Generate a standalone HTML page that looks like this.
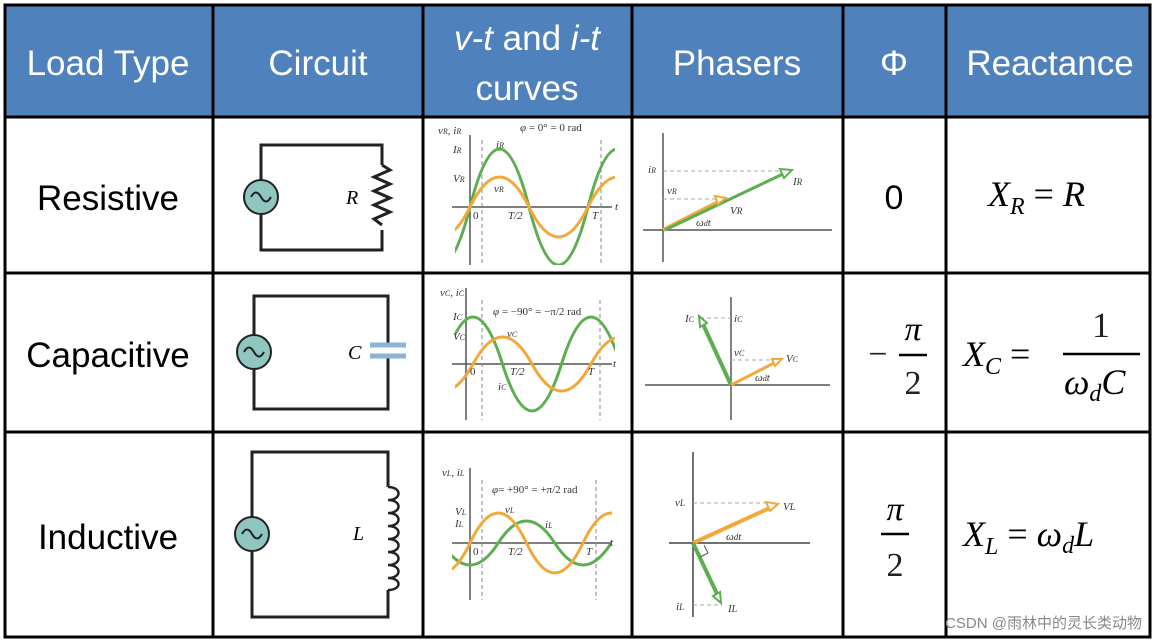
<!DOCTYPE html>
<html><head><meta charset="utf-8"><style>
html,body{margin:0;padding:0;background:#fff;}
svg{display:block;}
.h{font-family:"Liberation Sans",sans-serif;font-size:35px;fill:#fff;}
.r{font-family:"Liberation Sans",sans-serif;font-size:35px;fill:#000;}
.m{font-family:"Liberation Serif",serif;font-style:italic;fill:#000;}
.s{font-family:"Liberation Serif",serif;fill:#222;}
.t{font-family:"Liberation Serif",serif;font-size:11px;fill:#333;}
.ti{font-family:"Liberation Serif",serif;font-style:italic;font-size:11px;fill:#333;}
</style></head><body>
<svg width="1156" height="640" viewBox="0 0 1156 640" xmlns="http://www.w3.org/2000/svg">
<defs>
<clipPath id="c1"><rect x="455" y="125" width="160" height="140"/></clipPath>
<clipPath id="c2"><rect x="455" y="285" width="160" height="140"/></clipPath>
<clipPath id="c3"><rect x="452" y="440" width="160" height="190"/></clipPath>
</defs>
<rect x="5" y="5" width="1145" height="112" fill="#4f81bd"/>
<text class="h" x="108" y="75" text-anchor="middle">Load Type</text>
<text class="h" x="318" y="75" text-anchor="middle">Circuit</text>
<text class="h" x="527" y="50" text-anchor="middle"><tspan font-style="italic">v-t</tspan> and <tspan font-style="italic">i-t</tspan></text>
<text class="h" x="527" y="100" text-anchor="middle">curves</text>
<text class="h" x="737" y="75" text-anchor="middle">Phasers</text>
<text class="h" x="894" y="75" text-anchor="middle">Φ</text>
<text class="h" x="1050" y="75" text-anchor="middle">Reactance</text>
<text class="r" x="108" y="210" text-anchor="middle">Resistive</text>
<text class="r" x="108" y="367" text-anchor="middle">Capacitive</text>
<text class="r" x="108" y="549" text-anchor="middle">Inductive</text>
<g stroke="#000" stroke-width="3" fill="none">
<rect x="5" y="5" width="1145" height="632"/>
<line x1="5" y1="117" x2="1150" y2="117"/>
<line x1="5" y1="273" x2="1150" y2="273"/>
<line x1="5" y1="432" x2="1150" y2="432"/>
<line x1="213" y1="5" x2="213" y2="637"/>
<line x1="423" y1="5" x2="423" y2="637"/>
<line x1="632" y1="5" x2="632" y2="637"/>
<line x1="843" y1="5" x2="843" y2="637"/>
<line x1="946" y1="5" x2="946" y2="637"/>
</g>
<g stroke="#222" stroke-width="3" fill="none">
<path d="M261 180 V145 H382 V165 M382 230 V250 H261 V214"/>
<path d="M382 165 l8 5 -16 7 16 7 -16 7 16 7 -16 7 16 7 -16 7 8 6"/>
<path d="M254 335 V296 H388 V344 M388 356 V409 H254 V369"/>
<path d="M252 517 V452 H388 V487 M388 590 V617 H252 V551"/>
<path d="M388 487 c14 0 14 13 0 13 c14 0 14 13 0 13 c14 0 14 13 0 13 c14 0 14 13 0 13 c14 0 14 13 0 13 c14 0 14 13 0 13 c14 0 14 13 0 13 c14 0 14 12 0 12" stroke-width="2.5"/>
</g>
<g stroke="#8ab4d6" stroke-width="5"><line x1="370" y1="345" x2="406" y2="345"/><line x1="370" y1="356" x2="406" y2="356"/></g>
<g fill="#8fc7c0" stroke="#222" stroke-width="2">
<circle cx="261" cy="197" r="17"/><circle cx="254" cy="352" r="17"/><circle cx="252" cy="534" r="17"/>
</g>
<g fill="none" stroke="#222" stroke-width="2">
<path d="M251 197 q5 -9 10 0 t10 0"/><path d="M244 352 q5 -9 10 0 t10 0"/><path d="M242 534 q5 -9 10 0 t10 0"/>
</g>
<text class="m" x="346" y="204" font-size="20">R</text>
<text class="m" x="348" y="359" font-size="20">C</text>
<text class="m" x="353" y="540" font-size="20">L</text>
<g stroke="#555" stroke-width="1.5" fill="none">
<line x1="470" y1="135" x2="470" y2="265"/><line x1="452" y1="207" x2="612" y2="207"/>
</g>
<g stroke="#888" stroke-width="1" stroke-dasharray="4,3"><line x1="482" y1="140" x2="482" y2="265"/><line x1="601" y1="140" x2="601" y2="265"/></g>
<g clip-path="url(#c1)" fill="none" stroke-width="3">
<path d="M411 207 Q440.5 91 470 207 T529 207 T588 207 T647 207 T706 207" stroke="#5cae50" transform="matrix(1 0 0 -1 0 414)"/>
<path d="M411 207 Q440.5 147 470 207 T529 207 T588 207 T647 207" stroke="#f2a93b" transform="matrix(1 0 0 -1 0 414)"/>
</g>
<text class="ti" x="438" y="134">v<tspan font-size="8">R</tspan>, i<tspan font-size="8">R</tspan></text>
<text class="t" x="520" y="131"><tspan font-style="italic">φ</tspan> = 0° = 0 rad</text>
<text class="ti" x="453" y="153">I<tspan font-size="8">R</tspan></text>
<text class="ti" x="453" y="182">V<tspan font-size="8">R</tspan></text>
<text class="ti" x="496" y="148">i<tspan font-size="8">R</tspan></text>
<text class="ti" x="494" y="192">v<tspan font-size="8">R</tspan></text>
<text class="t" x="473" y="219">0</text><text class="ti" x="508" y="219">T/2</text><text class="ti" x="592" y="219">T</text><text class="ti" x="615" y="210">t</text>
<g stroke="#555" stroke-width="1.5"><line x1="663" y1="133" x2="663" y2="262"/><line x1="643" y1="230" x2="832" y2="230"/></g>
<g stroke="#aaa" stroke-dasharray="4,3"><line x1="663" y1="171" x2="785" y2="171"/><line x1="663" y1="199" x2="718" y2="199"/></g>
<line x1="663" y1="230" x2="722" y2="200" stroke="#f2a93b" stroke-width="4"/>
<line x1="665" y1="230" x2="785" y2="173" stroke="#5cae50" stroke-width="3"/>
<path d="M792 170 l-12 -1 4 9 z" fill="#fff" stroke="#5cae50" stroke-width="2"/>
<path d="M726 198 l-11 -2 3 8 z" fill="#fff" stroke="#f2a93b" stroke-width="2"/>
<text class="ti" x="648" y="173">i<tspan font-size="8">R</tspan></text>
<text class="ti" x="667" y="194">v<tspan font-size="8">R</tspan></text>
<text class="ti" x="793" y="185" font-size="13">I<tspan font-size="9">R</tspan></text>
<text class="ti" x="730" y="214" font-size="13">V<tspan font-size="9">R</tspan></text>
<text class="ti" x="696" y="226">ω<tspan font-size="8">d</tspan>t</text>
<g stroke="#555" stroke-width="1.5" fill="none"><line x1="466" y1="288" x2="466" y2="420"/><line x1="452" y1="364" x2="612" y2="364"/></g>
<g stroke="#888" stroke-dasharray="4,3"><line x1="482" y1="300" x2="482" y2="420"/><line x1="600" y1="300" x2="600" y2="420"/></g>
<g clip-path="url(#c2)" fill="none" stroke-width="3">
<path d="M443.5 364 Q473 270 502.5 364 T561.5 364 T620.5 364 T679.5 364" stroke="#5cae50"/>
<path d="M414 364 Q443.5 418 473 364 T532 364 T591 364 T650 364" stroke="#f2a93b"/>
</g>
<text class="ti" x="440" y="296">v<tspan font-size="8">C</tspan>, i<tspan font-size="8">C</tspan></text>
<text class="t" x="493" y="315"><tspan font-style="italic">φ</tspan> = −90° = −π/2 rad</text>
<text class="ti" x="453" y="320">I<tspan font-size="8">C</tspan></text>
<text class="ti" x="453" y="340">V<tspan font-size="8">C</tspan></text>
<text class="ti" x="507" y="337">v<tspan font-size="8">C</tspan></text>
<text class="ti" x="498" y="390">i<tspan font-size="8">C</tspan></text>
<text class="t" x="470" y="375">0</text><text class="ti" x="510" y="375">T/2</text><text class="ti" x="588" y="375">T</text><text class="ti" x="613" y="367">t</text>
<g stroke="#555" stroke-width="1.5"><line x1="731" y1="297" x2="731" y2="420"/><line x1="645" y1="385" x2="830" y2="385"/></g>
<g stroke="#aaa" stroke-dasharray="4,3"><line x1="700" y1="318" x2="731" y2="318"/><line x1="731" y1="360" x2="776" y2="360"/></g>
<line x1="731" y1="385" x2="702" y2="322" stroke="#5cae50" stroke-width="4"/>
<line x1="731" y1="385" x2="776" y2="362" stroke="#f2a93b" stroke-width="3"/>
<path d="M699 316 l1 11 7 -4 z" fill="#fff" stroke="#5cae50" stroke-width="2"/>
<path d="M782 359 l-10 0 3 7 z" fill="#fff" stroke="#f2a93b" stroke-width="2"/>
<text class="ti" x="685" y="322">I<tspan font-size="8">C</tspan></text>
<text class="ti" x="734" y="322">i<tspan font-size="8">C</tspan></text>
<text class="ti" x="734" y="356">v<tspan font-size="8">C</tspan></text>
<text class="ti" x="786" y="362">V<tspan font-size="8">C</tspan></text>
<text class="ti" x="755" y="381">ω<tspan font-size="8">d</tspan>t</text>
<g stroke="#555" stroke-width="1.5" fill="none"><line x1="470" y1="468" x2="470" y2="600"/><line x1="452" y1="543" x2="612" y2="543"/></g>
<g stroke="#888" stroke-dasharray="4,3"><line x1="482" y1="480" x2="482" y2="600"/><line x1="596" y1="480" x2="596" y2="600"/></g>
<g clip-path="url(#c3)" fill="none" stroke-width="3">
<path d="M441.75 543 Q470 587 498.25 543 T554.75 543 T611.25 543 T667.75 543" stroke="#5cae50"/>
<path d="M413.5 543 Q441.75 603 470 543 T526.5 543 T583 543 T639.5 543" stroke="#f2a93b"/>
</g>
<text class="ti" x="442" y="476">v<tspan font-size="8">L</tspan>, i<tspan font-size="8">L</tspan></text>
<text class="t" x="492" y="493"><tspan font-style="italic">φ</tspan>= +90° = +π/2 rad</text>
<text class="ti" x="455" y="515">V<tspan font-size="8">L</tspan></text>
<text class="ti" x="455" y="527">I<tspan font-size="8">L</tspan></text>
<text class="ti" x="505" y="513">v<tspan font-size="8">L</tspan></text>
<text class="ti" x="545" y="528">i<tspan font-size="8">L</tspan></text>
<text class="t" x="473" y="555">0</text><text class="ti" x="508" y="555">T/2</text><text class="ti" x="586" y="555">T</text><text class="ti" x="610" y="546">t</text>
<g stroke="#444" stroke-width="1.5"><line x1="693" y1="452" x2="693" y2="617"/><line x1="669" y1="543" x2="810" y2="543"/></g>
<g stroke="#aaa" stroke-dasharray="4,3"><line x1="693" y1="503" x2="770" y2="503"/><line x1="693" y1="605" x2="722" y2="605"/></g>
<line x1="693" y1="543" x2="772" y2="507" stroke="#f2a93b" stroke-width="4"/>
<line x1="693" y1="543" x2="718" y2="596" stroke="#5cae50" stroke-width="4"/>
<path d="M778 504 l-12 -2 4 9 z" fill="#fff" stroke="#f2a93b" stroke-width="2"/>
<path d="M721 603 l-1 -11 -7 4 z" fill="#fff" stroke="#5cae50" stroke-width="2"/>
<path d="M700 557 l8 -4 -4 -8" fill="none" stroke="#555"/>
<text class="ti" x="675" y="506" font-size="13">v<tspan font-size="9">L</tspan></text>
<text class="ti" x="783" y="510" font-size="14">V<tspan font-size="10">L</tspan></text>
<text class="ti" x="726" y="540" font-size="13">ω<tspan font-size="9">d</tspan>t</text>
<text class="ti" x="676" y="610" font-size="13">i<tspan font-size="9">L</tspan></text>
<text class="ti" x="728" y="612" font-size="14">I<tspan font-size="10">L</tspan></text>
<text x="894" y="209" text-anchor="middle" style="font-family:'Liberation Sans',sans-serif;font-size:34px;fill:#000">0</text>
<text class="s" x="878" y="365" font-size="34" text-anchor="middle" fill="#000">−</text>
<text class="m" x="913" y="340" font-size="34" text-anchor="middle" font-style="normal">π</text>
<line x1="899" y1="355" x2="927" y2="355" stroke="#000" stroke-width="2.5"/>
<text class="s" x="913" y="394" font-size="34" text-anchor="middle" fill="#000">2</text>
<text class="m" x="895" y="520" font-size="34" text-anchor="middle" font-style="normal">π</text>
<line x1="881" y1="534" x2="909" y2="534" stroke="#000" stroke-width="2.5"/>
<text class="s" x="895" y="576" font-size="34" text-anchor="middle" fill="#000">2</text>
<text class="m" x="988" y="206" font-size="36">X<tspan font-size="24" dy="8">R</tspan><tspan dy="-8" font-style="normal"> = </tspan>R</text>
<text class="m" x="963" y="366" font-size="36">X<tspan font-size="24" dy="8">C</tspan><tspan dy="-8" font-style="normal"> =</tspan></text>
<text class="s" x="1101" y="337" font-size="36" text-anchor="middle" fill="#000">1</text>
<line x1="1063" y1="354" x2="1140" y2="354" stroke="#000" stroke-width="2.5"/>
<text class="m" x="1064" y="394" font-size="36">ω<tspan font-size="24" dy="7">d</tspan><tspan dy="-7">C</tspan></text>
<text class="m" x="963" y="546" font-size="36">X<tspan font-size="24" dy="8">L</tspan><tspan dy="-8" font-style="normal"> = </tspan>ω<tspan font-size="24" dy="7">d</tspan><tspan dy="-7">L</tspan></text>
<text x="1142" y="628" text-anchor="end" font-family="'Liberation Sans','Noto Sans CJK SC',sans-serif" font-size="15" fill="#888">CSDN @雨林中的灵长类动物</text>
</svg>
</body></html>
